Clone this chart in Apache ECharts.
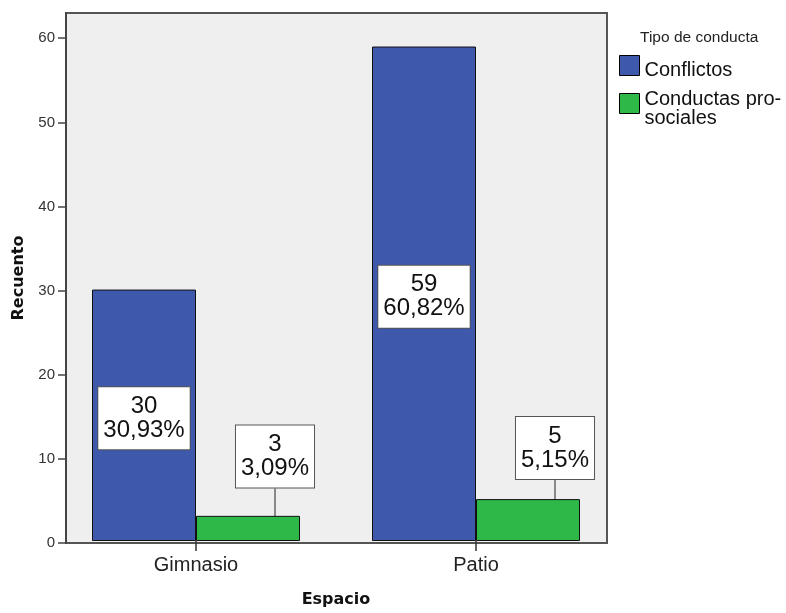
<!DOCTYPE html>
<html>
<head>
<meta charset="utf-8">
<script src="https://cdn.jsdelivr.net/npm/echarts@6/dist/echarts.min.js"></script>
<style>html,body{margin:0;padding:0;background:#fff}#c{width:786px;height:613px}</style>
</head>
<body>
<div id="c"></div>
<script>
const categories = ['Gimnasio', 'Patio'];
const conflictos = [30, 59];
const conflictosPct = ['30,93%', '60,82%'];
const prosociales = [3, 5];
const prosocialesPct = ['3,09%', '5,15%'];
const yTicks = [0, 10, 20, 30, 40, 50, 60];
const seriesNames = ['Conflictos', 'Conductas pro-sociales'];

const chart = echarts.init(document.getElementById('c'));
const labelBox = {
  show: true,
  position: 'inside',
  fontFamily: 'Liberation Sans, Arial, sans-serif',
  fontSize: 24,
  lineHeight: 24,
  color: '#111',
  backgroundColor: '#fff',
  borderColor: '#555',
  borderWidth: 1,
  padding: [7, 5]
};
const legendFont = {fontFamily: 'Liberation Sans, Arial, sans-serif', fontSize: 20, lineHeight: 19, color: '#111'};
chart.setOption({
  backgroundColor: '#fff',
  animation: false,
  title: {
    text: 'Tipo de conducta', left: 640, top: 30, padding: 0,
    textStyle: {fontFamily: 'Liberation Sans, Arial, sans-serif', fontSize: 15.5, fontWeight: 'normal', color: '#222'}
  },
  legend: {
    orient: 'vertical', left: 619, top: 51, padding: 0, itemWidth: 20, itemHeight: 20, itemGap: -1,
    icon: 'rect',
    data: seriesNames,
    formatter: n => n === 'Conductas pro-sociales'
      ? '{s| }\n{a|Conductas pro-}\n{a|sociales}'
      : '{s| }\n{a|' + n + '}',
    textStyle: Object.assign({}, legendFont, {
      rich: {
        s: {fontSize: 1, lineHeight: 10},
        a: legendFont
      }
    }),
    itemStyle: {borderColor: '#000', borderWidth: 1}
  },
  grid: [
    {left: 66, top: 13, right: 179, bottom: 70, show: true, backgroundColor: '#EFEFEF', borderColor: '#555', borderWidth: 2},
    {left: 56, top: 13, right: 170, bottom: 70}
  ],
  xAxis: [
    {gridIndex: 0, type: 'value', show: false, min: 0, max: 1},
    {gridIndex: 1, type: 'category', data: categories,
      axisLine: {show: false},
      axisTick: {show: true, alignWithLabel: true, length: 10, lineStyle: {color: '#333', width: 1.5}},
      axisLabel: {fontFamily: 'Liberation Sans, Arial, sans-serif', fontSize: 20, color: '#222', margin: 14},
      name: 'Espacio', nameLocation: 'middle', nameGap: 51,
      nameTextStyle: {fontFamily: 'DejaVu Sans, sans-serif', fontWeight: 'bold', fontSize: 16, color: '#111'}
    }
  ],
  yAxis: [
    {gridIndex: 0, type: 'value', min: 0, max: 63, interval: 10,
      axisLine: {show: true, lineStyle: {color: '#444', width: 2}},
      axisTick: {show: true, length: 8, customValues: yTicks, lineStyle: {color: '#444', width: 1.5}},
      axisLabel: {customValues: yTicks, fontFamily: 'Liberation Sans, Arial, sans-serif', fontSize: 15, color: '#333', margin: 11},
      splitLine: {show: false},
      name: 'Recuento', nameLocation: 'middle', nameGap: 39, nameRotate: 90,
      nameTextStyle: {fontFamily: 'DejaVu Sans, sans-serif', fontWeight: 'bold', fontSize: 16, color: '#111'}
    },
    {gridIndex: 1, type: 'value', min: 0, max: 63, show: false, splitLine: {show: false}}
  ],
  series: [
    {name: seriesNames[0], type: 'bar', xAxisIndex: 1, yAxisIndex: 1, data: conflictos,
      barWidth: 104, barGap: '0%',
      itemStyle: {color: '#3E58AC', borderColor: '#111', borderWidth: 1},
      label: Object.assign({}, labelBox, {offset: [0, 3], formatter: p => conflictos[p.dataIndex] + '\n' + conflictosPct[p.dataIndex]})
    },
    {name: seriesNames[1], type: 'bar', xAxisIndex: 1, yAxisIndex: 1, data: prosociales,
      barWidth: 104, barGap: '0%',
      itemStyle: {color: '#2EB848', borderColor: '#111', borderWidth: 1},
      label: Object.assign({}, labelBox, {formatter: p => prosociales[p.dataIndex] + '\n' + prosocialesPct[p.dataIndex]}),
      labelLayout: {dx: 27, dy: -72},
      labelLine: {show: true, lineStyle: {color: '#222', width: 1}}
    }
  ]
});
</script>
</body>
</html>
